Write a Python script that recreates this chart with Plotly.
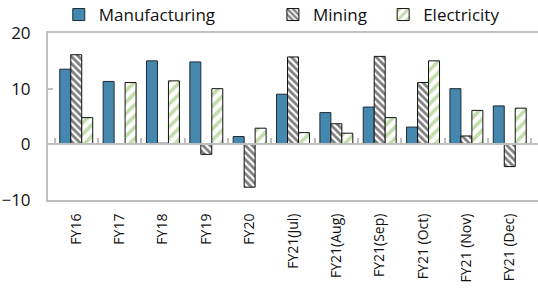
import plotly.graph_objects as go

categories = ["FY16", "FY17", "FY18", "FY19", "FY20", "FY21(Jul)", "FY21(Aug)",
              "FY21(Sep)", "FY21 (Oct)", "FY21 (Nov)", "FY21 (Dec)"]
manufacturing = [13.5, 11.3, 15.0, 14.8, 1.4, 9.0, 5.7, 6.7, 3.1, 10.0, 6.9]
mining = [16.1, 0.0, 0.2, -1.8, -7.7, 15.7, 3.7, 15.8, 11.1, 1.5, -4.0]
electricity = [4.8, 11.1, 11.4, 10.0, 2.9, 2.1, 2.0, 4.8, 15.0, 6.1, 6.5]
y_ticks = [-10, 0, 10, 20]

BLUE = "#4588AF"
GREEN = "#86BC58"
GRAY = "#BFBFBF"
FONT = "Open Sans"
TXT = "#111111"

fig = go.Figure()
fig.add_trace(go.Bar(
    name="Manufacturing", x=categories, y=manufacturing, legend="legend",
    marker=dict(color=BLUE, line=dict(color="#1F2A33", width=1)),
))
fig.add_trace(go.Bar(
    name="Mining", x=categories, y=mining, legend="legend2",
    marker=dict(color="white", line=dict(color="#111111", width=1),
                pattern=dict(shape="\\", fgcolor="black", bgcolor="white",
                             size=5, solidity=0.55)),
))
fig.add_trace(go.Bar(
    name="Electricity", x=categories, y=electricity, legend="legend3",
    marker=dict(color="white", line=dict(color="#111111", width=1),
                pattern=dict(shape="/", fgcolor=GREEN, bgcolor="white",
                             size=8, solidity=0.45)),
))
# invisible trace to host the zero-line axis with category boundary ticks
fig.add_trace(go.Scatter(x=categories, y=[0] * len(categories), xaxis="x2",
                         mode="markers", marker=dict(opacity=0),
                         showlegend=False, hoverinfo="skip"))

legend_common = dict(orientation="h", y=1.0, yanchor="bottom", xanchor="left",
                     font=dict(size=17, family=FONT, color=TXT),
                     itemwidth=30, bgcolor="rgba(0,0,0,0)")

fig.update_layout(
    width=538, height=289,
    margin=dict(l=48, r=0, t=33, b=89, autoexpand=False),
    paper_bgcolor="white", plot_bgcolor="white",
    font=dict(family=FONT, color=TXT),
    barmode="group", bargap=0.24, bargroupgap=0,
    showlegend=True,
    legend=dict(x=0.022, **legend_common),
    legend2=dict(x=0.459, **legend_common),
    legend3=dict(x=0.684, **legend_common),
    xaxis=dict(type="category", showline=True, linecolor=GRAY, linewidth=2,
               mirror=True, ticks="", showgrid=False, tickangle=-90,
               automargin=False, ticklabelstandoff=6,
               tickfont=dict(size=14, family=FONT, color=TXT)),
    xaxis2=dict(type="category", overlaying="x", matches="x", anchor="free",
                position=1/3, showline=True, linecolor=GRAY, linewidth=2,
                ticks="inside", tickson="boundaries", ticklen=5, tickwidth=2,
                tickcolor=GRAY, showticklabels=False, showgrid=False,
                automargin=False),
    yaxis=dict(range=[-10, 20], tickvals=y_ticks, showline=True, linecolor=GRAY,
               linewidth=2, ticks="inside", ticklen=5, tickwidth=2, tickcolor=GRAY,
               showgrid=False, zeroline=False, automargin=False,
               ticklabelstandoff=12,
               tickfont=dict(size=17, family=FONT, color=TXT)),
)

fig.write_html("out.html", config={"displayModeBar": False},
               post_script="document.body.style.margin='0';document.body.style.overflow='hidden';")
